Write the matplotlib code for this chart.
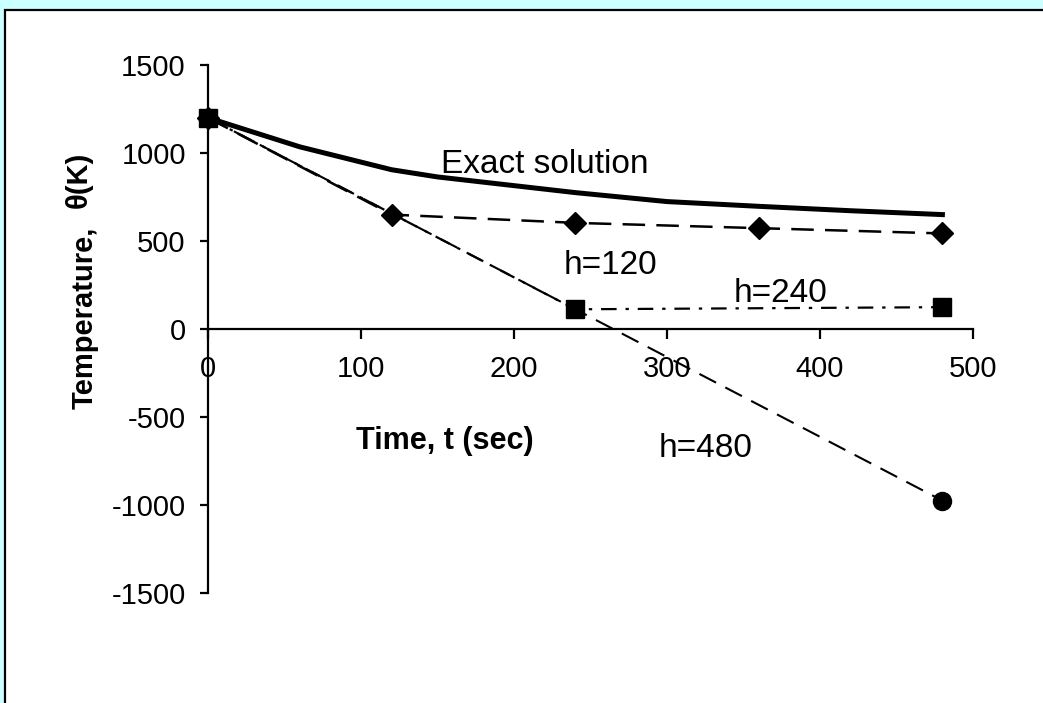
import matplotlib
matplotlib.use("Agg")
import matplotlib.pyplot as plt
from matplotlib.patches import Rectangle

plt.rcParams["font.family"] = ["Liberation Sans", "DejaVu Sans"]
plt.rcParams["axes.unicode_minus"] = False

# values
t_exact = [0, 60, 120, 150, 240, 300, 360, 420, 480]
theta_exact = [1200, 1035, 905, 864, 775, 724, 697, 672, 650]

t_h120 = [0, 120, 240, 360, 480]
theta_h120 = [1200, 650, 603, 573, 543]

t_h240 = [0, 240, 480]
theta_h240 = [1200, 112, 124]

t_h480 = [0, 480]
theta_h480 = [1200, -975]

x_ticks = [0, 100, 200, 300, 400, 500]
y_ticks = [-1500, -1000, -500, 0, 500, 1000, 1500]

fig = plt.figure(figsize=(10.43, 7.03), dpi=100, facecolor="#ccffff")

# white chart area with black frame (runs off right and bottom edge)
frame = Rectangle((5 / 1043, -0.05), 1.2, (703 - 10) / 703 + 0.05,
                  transform=fig.transFigure, facecolor="white",
                  edgecolor="black", linewidth=1.6, zorder=-10)
fig.patches.append(frame)

ax = fig.add_axes([208 / 1043, 110 / 703, (973 - 208) / 1043, (593 - 65) / 703])
ax.set_facecolor("none")
ax.set_xlim(0, 500)
ax.set_ylim(-1500, 1500)

ax.plot(t_h480, theta_h480, color="black", lw=1.5, ls=(0, (9, 5)),
        marker="o", ms=13, clip_on=False, zorder=3)
ax.plot(t_h240, theta_h240, color="black", lw=1.6, ls=(0, (7, 4, 1.5, 4)),
        marker="s", ms=12.5, clip_on=False, zorder=4)
ax.plot(t_h120, theta_h120, color="black", lw=1.8, ls=(0, (9, 4.5)),
        marker="D", ms=11, clip_on=False, zorder=5)
ax.plot(t_exact, theta_exact, color="black", lw=3.6, ls="-",
        clip_on=False, zorder=6)

ax.text(220, 886, "Exact solution", fontsize=24, ha="center", va="baseline")
ax.text(263, 312, "h=120", fontsize=24, ha="center", va="baseline")
ax.text(374, 153, "h=240", fontsize=24, ha="center", va="baseline")
ax.text(325, -727, "h=480", fontsize=24, ha="center", va="baseline")

for side in ["top", "right"]:
    ax.spines[side].set_visible(False)
ax.spines["bottom"].set_position(("data", 0))
ax.spines["bottom"].set_linewidth(1.6)
ax.spines["left"].set_linewidth(1.6)

ax.set_xticks(x_ticks)
ax.set_yticks(y_ticks)
ax.tick_params(axis="x", direction="out", length=7, width=1.6,
               labelsize=21, pad=12)
ax.tick_params(axis="y", direction="out", length=6, width=1.6,
               labelsize=21, pad=10)

fig.text(445 / 1043, 1 - 441 / 703, "Time, t (sec)", fontsize=22,
         fontweight="bold", ha="center", va="center")
fig.text(85 / 1043, 1 - 318 / 703, "Temperature,", fontsize=21,
         fontweight="bold", rotation=90, ha="center", va="center")
fig.text(79 / 1043, 1 - 180 / 703, "θ(K)", fontsize=21,
         fontweight="bold", rotation=90, ha="center", va="center")

fig.savefig("out.png", dpi=100, facecolor=fig.get_facecolor())
